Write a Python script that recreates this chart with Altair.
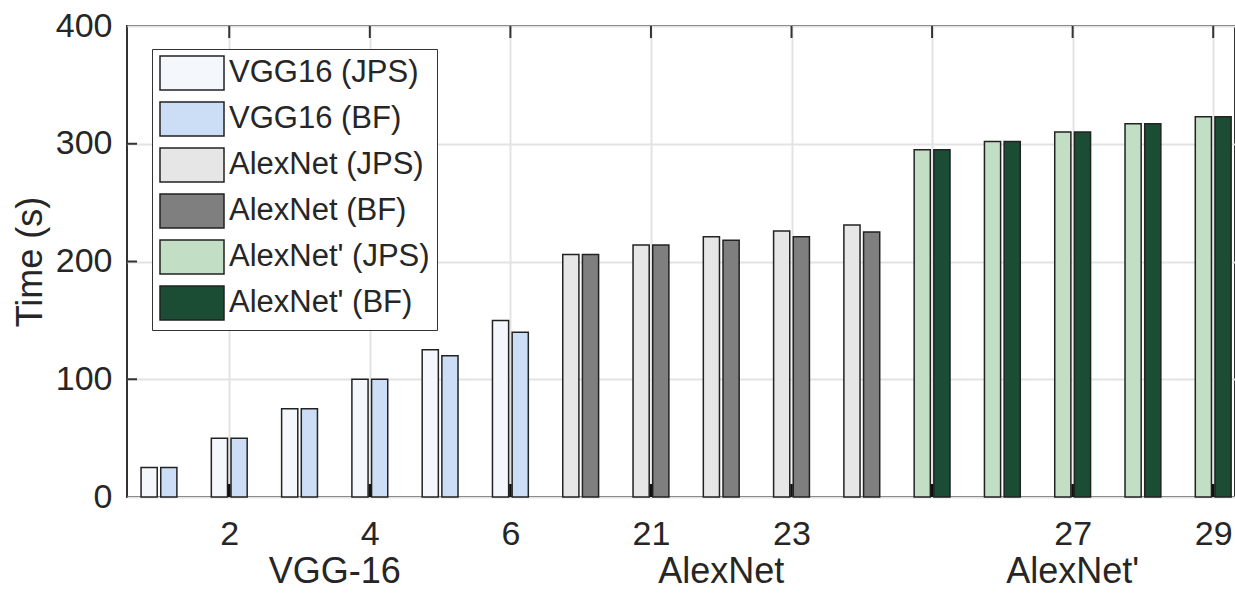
import altair as alt
import pandas as pd

# ---- data ----
slot_labels = [1, 2, 3, 4, 5, 6, 20, 21, 22, 23, 24, 25, 26, 27, 28, 29]
groups = ["VGG-16"] * 6 + ["AlexNet"] * 5 + ["AlexNet'"] * 5
jps_times = [25, 50, 75, 100, 125, 150, 206, 214, 221, 226, 231, 295, 302, 310, 317, 323]
bf_times = [25, 50, 75, 100, 120, 140, 206, 214, 218, 221, 225, 295, 302, 310, 317, 323]
group_series = {
    "VGG-16": ("VGG16 (JPS)", "VGG16 (BF)"),
    "AlexNet": ("AlexNet (JPS)", "AlexNet (BF)"),
    "AlexNet'": ("AlexNet' (JPS)", "AlexNet' (BF)"),
}
series_order = ["VGG16 (JPS)", "VGG16 (BF)", "AlexNet (JPS)", "AlexNet (BF)",
                "AlexNet' (JPS)", "AlexNet' (BF)"]
series_colors = ["#f4f8fd", "#cbdef5", "#e6e6e6", "#7f7f7f", "#c2dec5", "#1b4d34"]
tick_values = [2, 4, 6, 21, 23, 25, 27, 29]
tick_texts = ["2", "4", "6", "21", "23", "", "27", "29"]
y_ticks = [0, 100, 200, 300, 400]
y_inner_ticks = [100, 200, 300]

FONT = "Liberation Sans"
TXT = "#262626"

# ---- tables ----
rows = []
for i, (g, j, b) in enumerate(zip(groups, jps_times, bf_times)):
    rows.append({"pos": i, "time": j, "series": group_series[g][0], "side": -1})
    rows.append({"pos": i, "time": b, "series": group_series[g][1], "side": 1})
bars_df = pd.DataFrame(rows)

tick_pos = [slot_labels.index(v) for v in tick_values]
ticks_df = pd.DataFrame({"pos": tick_pos})
label_expr = " : ".join(
    f"datum.value == {p} ? '{t}'" for p, t in zip(tick_pos, tick_texts)
) + " : ''"

group_names = list(dict.fromkeys(groups))
group_df = pd.DataFrame({
    "group": group_names,
    "pos": [sum(i for i, g in enumerate(groups) if g == n) / groups.count(n) for n in group_names],
})
yt_df = pd.DataFrame({"time": y_inner_ticks})

W, H = 1108, 471
xscale = alt.Scale(domain=[-0.455, 15.31], nice=False, zero=False)
yscale = alt.Scale(domain=[0, 400], nice=False)

bars = alt.Chart(bars_df).transform_calculate(
    x_in="datum.pos + datum.side * 0.025",
    x_out="datum.pos + datum.side * 0.255",
).mark_bar(stroke="#222222", strokeWidth=1.5, opacity=1).encode(
    x=alt.X("x_in:Q", scale=xscale, title=None,
            axis=alt.Axis(values=tick_pos, labelExpr=label_expr, grid=True,
                          gridColor="#e3e3e3", gridWidth=2, ticks=False, tickSize=0,
                          domain=False, labelFontSize=34, labelFont=FONT,
                          labelColor=TXT, labelPadding=20, labelOverlap=False,
                          labelFlush=False)),
    x2="x_out:Q",
    y=alt.Y("time:Q", scale=yscale, title="Time (s)",
            axis=alt.Axis(values=y_ticks, grid=True, gridColor="#e3e3e3", gridWidth=2,
                          ticks=False, tickSize=0, domain=False, labelFontSize=34,
                          labelFont=FONT, labelColor=TXT, labelPadding=15,
                          labelOverlap=False, labelFlush=False,
                          titleFontSize=36, titleFont=FONT, titleColor=TXT,
                          titleFontWeight="normal", titlePadding=6)),
    y2=alt.datum(0),
    fill=alt.Fill("series:N",
                  scale=alt.Scale(domain=series_order, range=series_colors),
                  legend=alt.Legend(orient="none", legendX=25, legendY=23, title=None,
                                    symbolType="M-2,-1.0625H2V1.0625H-2Z",
                                    symbolSize=1024, symbolStrokeColor="#222222",
                                    symbolStrokeWidth=1.5, symbolOpacity=1,
                                    symbolOffset=16, labelOffset=20,
                                    labelFontSize=31, labelFont=FONT, labelColor=TXT,
                                    labelLimit=400, rowPadding=6, padding=7,
                                    strokeColor="#333333", fillColor="white",
                                    cornerRadius=0)),
)

group_text = alt.Chart(group_df).mark_text(
    fontSize=36, font=FONT, color=TXT, baseline="alphabetic", align="center"
).encode(x=alt.X("pos:Q", scale=xscale), y=alt.value(557), text="group:N")

top_ticks = alt.Chart(ticks_df).mark_rule(color="#333333", strokeWidth=2).encode(
    x=alt.X("pos:Q", scale=xscale), y=alt.value(0), y2=alt.value(12))
bottom_ticks = alt.Chart(ticks_df).mark_rule(color="#111111", strokeWidth=2.5).encode(
    x=alt.X("pos:Q", scale=xscale), y=alt.value(H - 13), y2=alt.value(H))
left_ticks = alt.Chart(yt_df).mark_rule(color="#333333", strokeWidth=2).encode(
    y=alt.Y("time:Q", scale=yscale), x=alt.value(0), x2=alt.value(10))

chart = alt.layer(bars, group_text, top_ticks, bottom_ticks, left_ticks).properties(
    width=W, height=H,
    autosize=alt.AutoSizeParams(type="none"),
    padding={"left": 127, "top": 26, "right": 0, "bottom": 97},
    background="white",
).configure_view(stroke="#333333", strokeWidth=2)

chart.save("out.html", embed_options={"renderer": "svg", "actions": False})
